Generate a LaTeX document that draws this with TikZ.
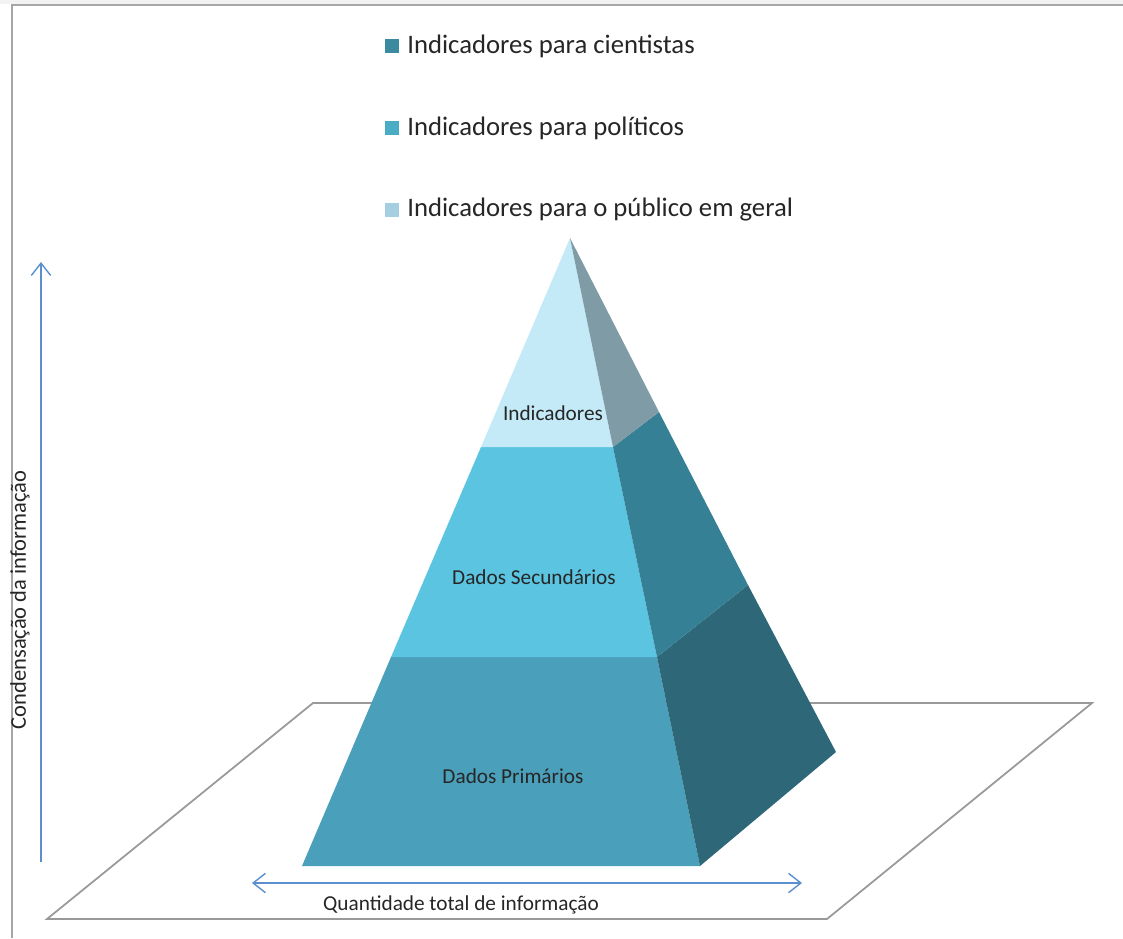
\documentclass[tikz,border=0pt]{standalone}
\usepackage{fontspec}
\setmainfont{Carlito}
\usetikzlibrary{arrows.meta}

\definecolor{topfront}{HTML}{C4EAF7}
\definecolor{topside}{HTML}{7F9BA6}
\definecolor{midfront}{HTML}{5BC4E1}
\definecolor{midside}{HTML}{358095}
\definecolor{lowfront}{HTML}{4AA0BA}
\definecolor{lowside}{HTML}{2D6778}
\definecolor{keycient}{HTML}{3B8AA0}
\definecolor{keypolit}{HTML}{4BACC6}
\definecolor{keypubl}{HTML}{A5CFE0}
\definecolor{axisblue}{HTML}{5B8FD0}
\definecolor{textgrey}{HTML}{262626}

\tikzset{
    barb/.tip={Straight Barb[length=7pt, width=11pt]},
    frameline/.style={draw=gray!70, line width=1.2pt},
    planeline/.style={draw=gray!80, line width=1pt},
    axisline/.style={draw=axisblue, line width=0.8pt},
    keybox/.style={minimum size=8.5pt, inner sep=0pt},
    keytext/.style={text=textgrey, anchor=west, inner sep=0pt, font=\fontsize{15.2}{17}\selectfont},
    layertext/.style={text=textgrey, inner sep=0pt, font=\fontsize{12.1}{14}\selectfont}
}

\begin{document}
\begin{tikzpicture}[x=0.02cm, y=-0.02cm]
    \useasboundingbox (0,0) rectangle (1123,938);
    \fill[gray!10] (0,0) rectangle (1123,4);
    \draw[frameline] (12,938) -- (12,5) -- (1123,5);

    % ground plane
    \coordinate (pl) at (47,919);
    \coordinate (pr) at (827,919);
    \coordinate (qr) at (1092,703);
    \coordinate (ql) at (313,703);
    \draw[planeline] (pl) -- (pr) -- (qr) -- (ql) -- cycle;

    % pyramid corners
    \coordinate (apex) at (570,238);
    \coordinate (fl) at (302,866);
    \coordinate (fr) at (700,866);
    \coordinate (br) at (836,752);
    \coordinate (a1) at (481,447);
    \coordinate (b1) at (613,447);
    \coordinate (c1) at (659,412);
    \coordinate (a2) at (391,657);
    \coordinate (b2) at (657,657);
    \coordinate (c2) at (748,585);

    \fill[lowfront] (fl) -- (fr) -- (b2) -- (a2) -- cycle;
    \fill[midfront] (a2) -- (b2) -- (b1) -- (a1) -- cycle;
    \fill[topfront] (a1) -- (b1) -- (apex) -- cycle;
    \fill[lowside] (fr) -- (br) -- (c2) -- (b2) -- cycle;
    \fill[midside] (b2) -- (c2) -- (c1) -- (b1) -- cycle;
    \fill[topside] (b1) -- (c1) -- (apex) -- cycle;

    \node[layertext] (ind) at (553,413) {Indicadores};
    \node[layertext] (sec) at (534,577) {Dados Secundários};
    \node[layertext] (pri) at (513,776) {Dados Primários};

    % axes
    \coordinate (vlow) at (41,862);
    \coordinate (vtop) at (41,262);
    \draw[axisline, -barb] (vlow) -- (vtop);
    \coordinate (hleft) at (252,883);
    \coordinate (hright) at (802,883);
    \draw[axisline, barb-barb] (hleft) -- (hright);

    \node[layertext, rotate=90, font=\fontsize{12.8}{14}\selectfont] (cond) at (20,600) {Condensação da informação};
    \node[layertext] (quant) at (461,905) {Quantidade total de informação};

    % legend
    \node[keybox, fill=keycient] (k1) at (392,46) {};
    \node[keybox, fill=keypolit] (k2) at (392,128) {};
    \node[keybox, fill=keypubl] (k3) at (392,210) {};
    \node[keytext] (t1) at (407,46) {Indicadores para cientistas};
    \node[keytext] (t2) at (407,128) {Indicadores para políticos};
    \node[keytext] (t3) at (407,210) {Indicadores para o público em geral};
\end{tikzpicture}
\end{document}
